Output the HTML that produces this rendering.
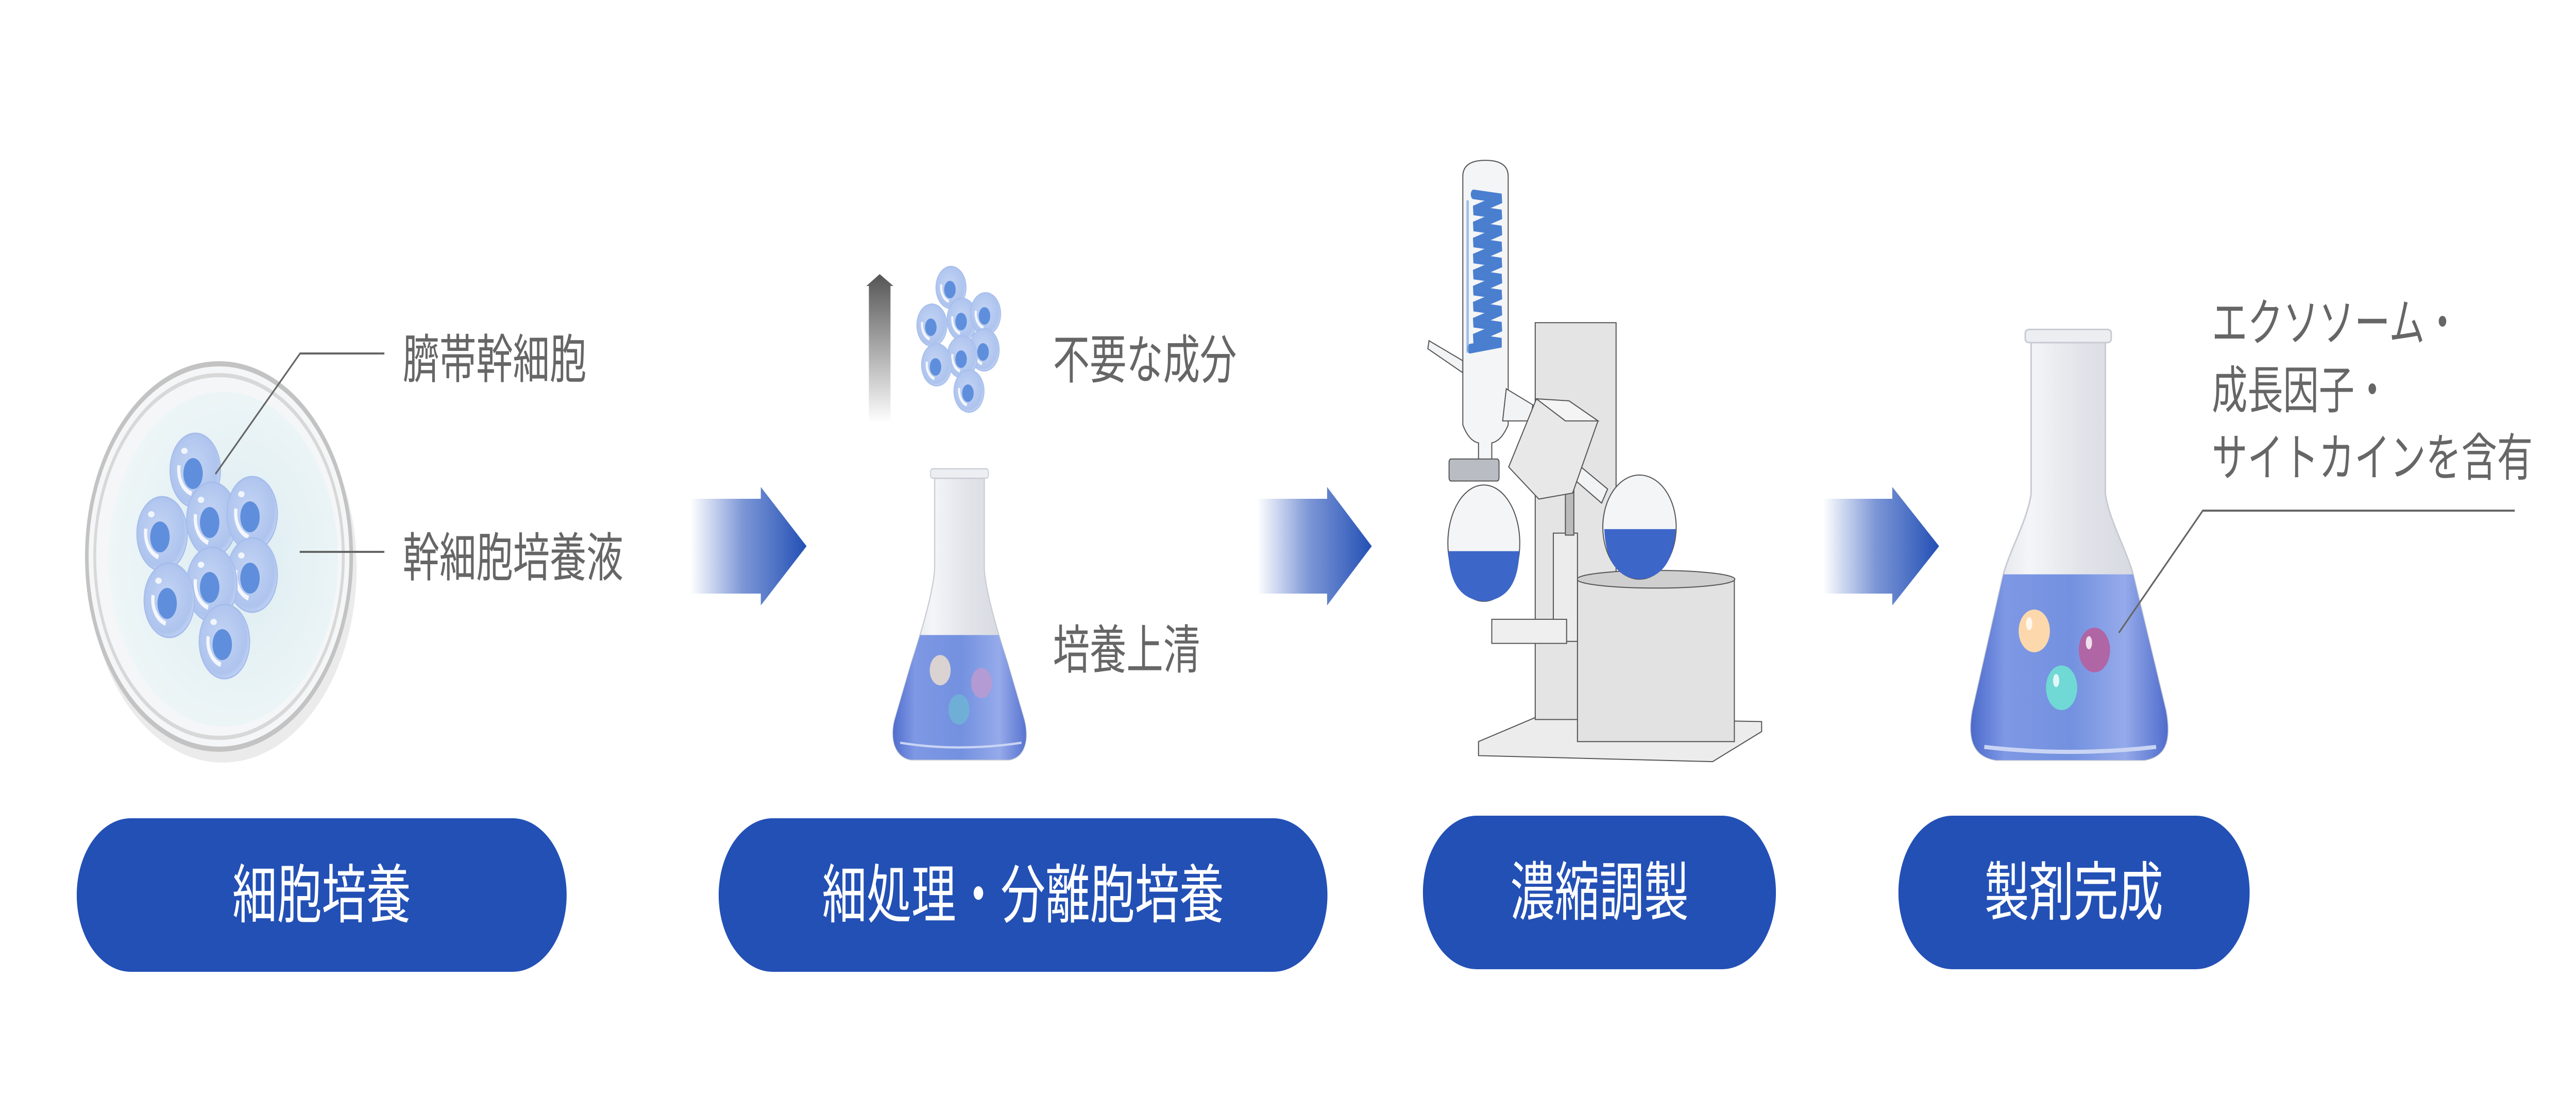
<!DOCTYPE html>
<html><head><meta charset="utf-8"><style>
html,body{margin:0;padding:0;background:#fff;width:100%;height:100%;overflow:hidden;}
svg{display:block;width:100vw;height:100vh;}
text{font-family:"Liberation Sans","Noto Sans CJK JP",sans-serif;}
</style></head><body>
<svg viewBox="0 0 7151 2160" preserveAspectRatio="none" xmlns="http://www.w3.org/2000/svg">
<defs>
<linearGradient id="arr" x1="0" y1="0" x2="1" y2="0">
<stop offset="0" stop-color="#ffffff"/><stop offset="0.45" stop-color="#7d97d6"/><stop offset="1" stop-color="#2350b5"/>
</linearGradient>
<linearGradient id="garr" x1="0" y1="1" x2="0" y2="0">
<stop offset="0" stop-color="#ffffff"/><stop offset="1" stop-color="#555"/>
</linearGradient>
<radialGradient id="cell" cx="0.45" cy="0.45" r="0.6">
<stop offset="0" stop-color="#c4d4f4"/><stop offset="0.8" stop-color="#aec4ee"/><stop offset="1" stop-color="#c8d7f5"/>
</radialGradient>
<radialGradient id="dish" cx="0.55" cy="0.5" r="0.55">
<stop offset="0" stop-color="#dcecf1"/><stop offset="1" stop-color="#eef6f7"/>
</radialGradient>
<linearGradient id="liq" x1="0" y1="0" x2="1" y2="0">
<stop offset="0" stop-color="#3d5cc4"/><stop offset="0.2" stop-color="#7e98e4"/><stop offset="0.5" stop-color="#7391e0"/><stop offset="0.75" stop-color="#95aaea"/><stop offset="1" stop-color="#3d5cc4"/>
</linearGradient>
<linearGradient id="glass" x1="0" y1="0" x2="1" y2="0">
<stop offset="0" stop-color="#d8dbe2"/><stop offset="0.3" stop-color="#f4f5f8"/><stop offset="0.55" stop-color="#e2e4ea"/><stop offset="1" stop-color="#d0d3db"/>
</linearGradient>
<g id="c">
<ellipse cx="0" cy="0" rx="70" ry="72" fill="url(#cell)" stroke="#a6bdec" stroke-width="3"/>
<ellipse cx="-6" cy="6" rx="27" ry="30" fill="#5f8fdc"/>
<path d="M-45,-10 A48,48 0 0 0 -10,45" fill="none" stroke="#fff" stroke-width="9" opacity="0.85"/>
<ellipse cx="-30" cy="-38" rx="9" ry="6" fill="#fff" opacity="0.8"/>
</g>
<g id="sc">
<ellipse cx="0" cy="0" rx="42" ry="41" fill="url(#cell)" stroke="#a6bdec" stroke-width="2"/>
<ellipse cx="-3" cy="4" rx="16" ry="17" fill="#5f8fdc"/>
<path d="M-27,-6 A29,29 0 0 0 -6,27" fill="none" stroke="#fff" stroke-width="6" opacity="0.85"/>
</g>
</defs>

<rect x="213" y="1588" width="1360" height="298" rx="150" fill="#2350b5"/>
<rect x="1995" y="1588" width="1690" height="298" rx="150" fill="#2350b5"/>
<rect x="3950" y="1583" width="980" height="298" rx="150" fill="#2350b5"/>
<rect x="5270" y="1583" width="975" height="298" rx="150" fill="#2350b5"/>
<g fill="#fff" font-size="124" text-anchor="middle" dominant-baseline="central">
<text x="893" y="1737">細胞培養</text>
<text x="2840" y="1737">細処理・分離胞培養</text>
<text x="4440" y="1732">濃縮調製</text>
<text x="5757" y="1732">製剤完成</text>
</g>

<path d="M1917,968 L2112,968 L2112,945 L2239,1060 L2112,1175 L2112,1152 L1917,1152 Z" fill="url(#arr)"/>
<path d="M3490,968 L3684,968 L3684,945 L3808,1060 L3684,1175 L3684,1152 L3490,1152 Z" fill="url(#arr)"/>
<path d="M5061,968 L5253,968 L5253,945 L5383,1060 L5253,1175 L5253,1152 L5061,1152 Z" fill="url(#arr)"/>

<ellipse cx="612" cy="1092" rx="372" ry="378" fill="#ddd" opacity="0.6" transform="translate(6,10)"/>
<ellipse cx="608" cy="1080" rx="367" ry="374" fill="#f4f6f7" stroke="#c3c3c3" stroke-width="10"/>
<ellipse cx="608" cy="1080" rx="345" ry="352" fill="none" stroke="#d8d8d8" stroke-width="8"/>
<ellipse cx="620" cy="1085" rx="318" ry="325" fill="url(#dish)"/>
<use href="#c" x="542" y="913"/>
<use href="#c" x="588" y="1008"/>
<use href="#c" x="700" y="997"/>
<use href="#c" x="450" y="1036"/>
<use href="#c" x="700" y="1116"/>
<use href="#c" x="588" y="1134"/>
<use href="#c" x="470" y="1165"/>
<use href="#c" x="623" y="1245"/>
<path d="M598,920 L833,686 L1067,686" fill="none" stroke="#666" stroke-width="4"/>
<path d="M832,1071 L1067,1071" fill="none" stroke="#666" stroke-width="4"/>
<g fill="#666" font-size="102" dominant-baseline="central">
<text x="1118" y="698">臍帯幹細胞</text>
<text x="1118" y="1083">幹細胞培養液</text>
<text x="2923" y="699">不要な成分</text>
<text x="2923" y="1262">培養上清</text>
</g>

<path d="M2412,821 L2412,555 L2405,555 L2442,532 L2480,555 L2472,555 L2472,821 Z" fill="url(#garr)"/>
<use href="#sc" x="2640" y="558"/>
<use href="#sc" x="2671" y="620"/>
<use href="#sc" x="2736" y="609"/>
<use href="#sc" x="2587" y="631"/>
<use href="#sc" x="2732" y="679"/>
<use href="#sc" x="2671" y="693"/>
<use href="#sc" x="2600" y="708"/>
<use href="#sc" x="2690" y="759"/>

<g transform="translate(2300,400) scale(0.7653,0.7334)">
<clipPath id="f2"><path d="M385,720 L385,960 C380,1020 340,1120 300,1210 L240,1360 C220,1420 250,1460 300,1465 L655,1465 C705,1460 730,1420 710,1360 L650,1210 C610,1120 570,1020 565,960 L565,720 Z"/></clipPath>
<path d="M385,720 L385,960 C380,1020 340,1120 300,1210 L240,1360 C220,1420 250,1460 300,1465 L655,1465 C705,1460 730,1420 710,1360 L650,1210 C610,1120 570,1020 565,960 L565,720 Z" fill="url(#glass)" stroke="#c8cbd3" stroke-width="4"/>
<rect x="200" y="1135" width="560" height="340" fill="url(#liq)" clip-path="url(#f2)"/>
<rect x="370" y="695" width="210" height="25" rx="8" fill="#eceef2" stroke="#c8cbd3" stroke-width="3"/>
<ellipse cx="405" cy="1228" rx="38" ry="40" fill="#e6d8d0" opacity="0.9"/>
<ellipse cx="555" cy="1262" rx="38" ry="40" fill="#b89ad0" opacity="0.9"/>
<ellipse cx="473" cy="1332" rx="38" ry="40" fill="#6fb2d6" opacity="0.9"/>
<path d="M260,1420 Q470,1445 700,1420" fill="none" stroke="#c9d4f4" stroke-width="6"/>
</g>

<g transform="translate(3900,280) scale(0.67,0.778)">
<g stroke="#555" stroke-width="2">
<path d="M305,1490 L540,1430 L1478,1440 L1478,1465 L1275,1540 L305,1525 Z" fill="#ececec" vector-effect="non-scaling-stroke"/>
<rect x="540" y="445" width="335" height="990" fill="#e4e4e4" vector-effect="non-scaling-stroke"/>
<rect x="715" y="1085" width="650" height="405" fill="#e2e2e2" vector-effect="non-scaling-stroke"/>
<ellipse cx="1040" cy="1085" rx="327" ry="22" fill="#cfcfcf" vector-effect="non-scaling-stroke"/>
<rect x="615" y="970" width="100" height="270" fill="#ececec" vector-effect="non-scaling-stroke"/>
<rect x="360" y="1185" width="310" height="60" fill="#efefef" vector-effect="non-scaling-stroke"/>
<rect x="665" y="860" width="35" height="115" fill="#bbb" vector-effect="non-scaling-stroke"/>
<path d="M100,490 L240,540 L240,570 L95,510 Z" fill="#f2f3f5" vector-effect="non-scaling-stroke"/>
<path d="M240,80 Q240,40 334,40 Q428,40 428,80 L428,700 Q400,740 360,745 L360,840 L305,840 L305,745 Q265,740 240,700 Z" fill="#f4f5f7" vector-effect="non-scaling-stroke"/>
<path d="M420,610 L530,650 L520,690 L405,690 Z" fill="#f2f3f5" vector-effect="non-scaling-stroke"/>
<path d="M700,790 L840,860 L815,895 L690,830 Z" fill="#f2f3f5" vector-effect="non-scaling-stroke"/>
<ellipse cx="327" cy="995" rx="149" ry="145" fill="#f4f5f7" vector-effect="non-scaling-stroke"/>
<ellipse cx="972" cy="955" rx="152" ry="130" fill="#f4f5f7" vector-effect="non-scaling-stroke"/>
<path d="M430,805 L545,635 L680,640 L800,690 L695,870 L555,885 Z" fill="#e8e8e8" vector-effect="non-scaling-stroke"/>
<path d="M545,635 L680,640 L800,690 L665,690 Z" fill="#f4f4f4" vector-effect="non-scaling-stroke"/>
<rect x="183" y="785" width="207" height="55" rx="8" fill="#b9bcc2" vector-effect="non-scaling-stroke"/>
</g>
<path d="M180,1015 L474,1015 Q470,1135 327,1140 Q185,1135 180,1015 Z" fill="#3d66c9"/>
<path d="M826,960 L1122,960 Q1110,1080 972,1085 Q835,1080 826,960 Z" fill="#3d66c9"/>
<g stroke="#4a7fd0" stroke-width="24" stroke-linecap="round" fill="none">
<path d="M285,125 L400,135 L285,165 L400,175 L285,205 L400,215 L285,245 L400,255 L285,285 L400,295 L285,325 L400,335 L285,365 L400,375 L285,405 L400,415 L285,445 L400,455 L285,485 L400,495 L270,510"/>
</g>
<rect x="255" y="140" width="10" height="380" fill="#7fa5e0" opacity="0.7"/>
</g>

<g transform="translate(5400,550) scale(1.084,0.638)">
<clipPath id="f4"><path d="M220,180 L220,640 C210,720 170,800 150,880 L70,1300 C55,1400 80,1440 130,1450 L510,1450 C560,1440 580,1400 565,1300 L480,880 C460,800 420,720 410,640 L410,180 Z"/></clipPath>
<path d="M220,180 L220,640 C210,720 170,800 150,880 L70,1300 C55,1400 80,1440 130,1450 L510,1450 C560,1440 580,1400 565,1300 L480,880 C460,800 420,720 410,640 L410,180 Z" fill="url(#glass)" stroke="#c8cbd3" stroke-width="3" vector-effect="non-scaling-stroke"/>
<rect x="40" y="885" width="560" height="580" fill="url(#liq)" clip-path="url(#f4)"/>
<rect x="205" y="140" width="220" height="40" rx="10" fill="#eceef2" stroke="#c8cbd3" stroke-width="3" vector-effect="non-scaling-stroke"/>
<ellipse cx="228" cy="1057" rx="40" ry="65" fill="#fcd8ac"/>
<ellipse cx="382" cy="1115" rx="40" ry="68" fill="#b065a5"/>
<ellipse cx="298" cy="1230" rx="40" ry="68" fill="#70d8d5"/>
<ellipse cx="215" cy="1035" rx="8" ry="20" fill="#fff" opacity="0.8"/>
<ellipse cx="368" cy="1093" rx="8" ry="20" fill="#fff" opacity="0.8"/>
<ellipse cx="284" cy="1208" rx="8" ry="20" fill="#fff" opacity="0.8"/>
<path d="M100,1410 Q320,1440 540,1410" fill="none" stroke="#c9d4f4" stroke-width="8" vector-effect="non-scaling-stroke"/>
</g>
<path d="M5882,1228 L6115,991 L6981,991" fill="none" stroke="#666" stroke-width="4"/>
<g fill="#666" font-size="99" dominant-baseline="central">
<text x="6140" y="628">エクソソーム・</text>
<text x="6140" y="759">成長因子・</text>
<text x="6140" y="890">サイトカインを含有</text>
</g>
</svg>
</body></html>
